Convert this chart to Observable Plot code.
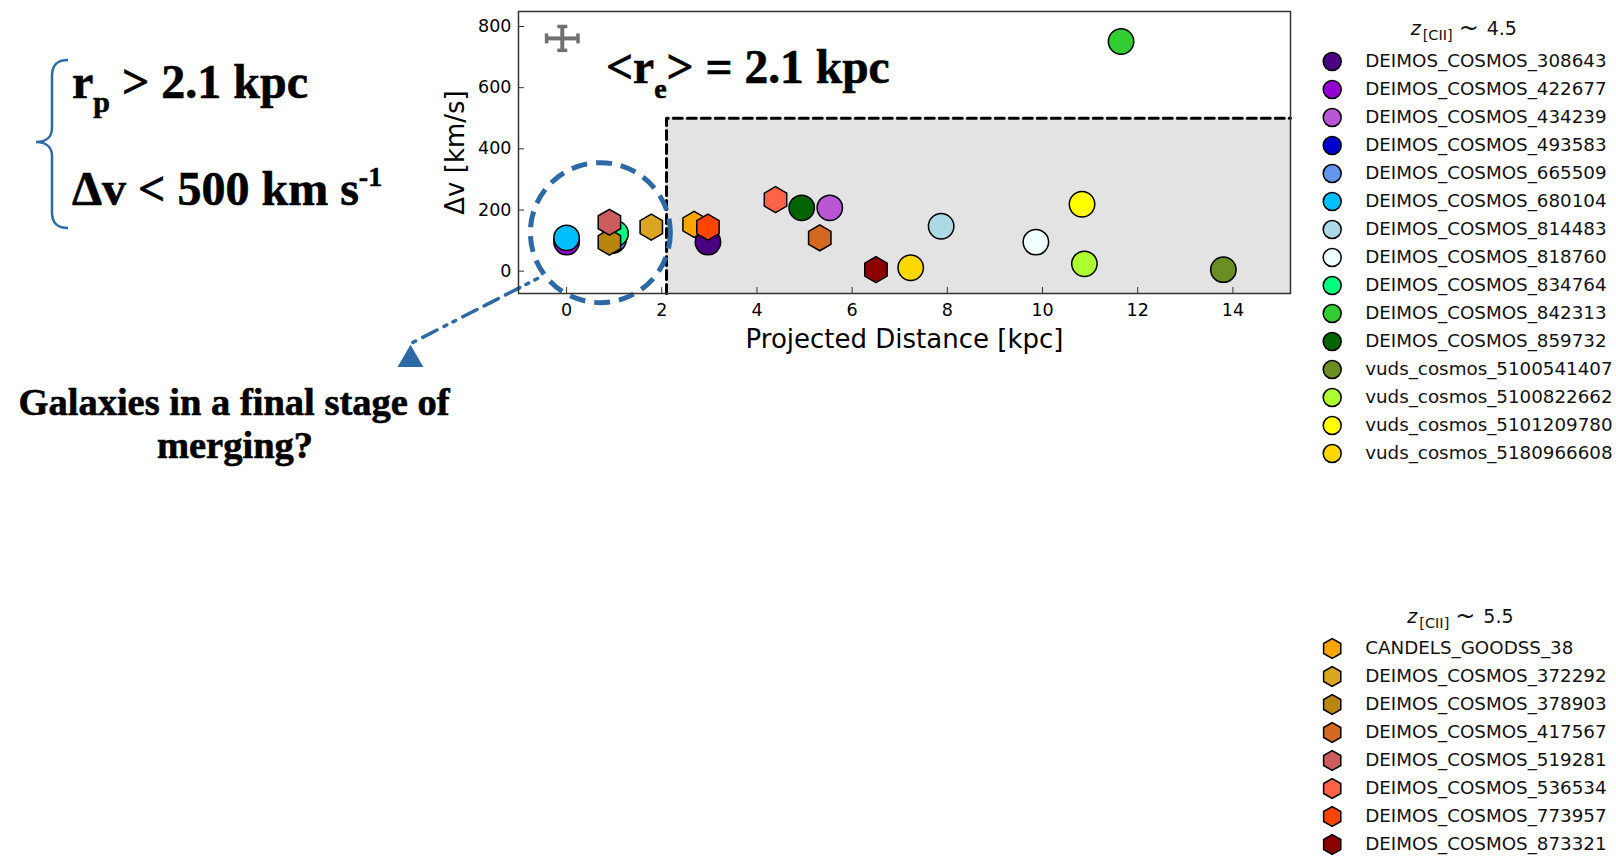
<!DOCTYPE html>
<html><head><meta charset="utf-8">
<script src="https://cdn.jsdelivr.net/npm/d3@7"></script>
<script src="https://cdn.jsdelivr.net/npm/@observablehq/plot@0.6"></script>
<style>
body{margin:0;background:#fff;}
#page{position:relative;width:1616px;height:856px;overflow:hidden;background:#fff;}
#page > svg, #page > figure{position:absolute;margin:0;}
</style></head><body><div id="page"></div>
<script>
// ---- data ----
const namesA = ["DEIMOS_COSMOS_308643","DEIMOS_COSMOS_422677","DEIMOS_COSMOS_434239","DEIMOS_COSMOS_493583","DEIMOS_COSMOS_665509","DEIMOS_COSMOS_680104","DEIMOS_COSMOS_814483","DEIMOS_COSMOS_818760","DEIMOS_COSMOS_834764","DEIMOS_COSMOS_842313","DEIMOS_COSMOS_859732","vuds_cosmos_5100541407","vuds_cosmos_5100822662","vuds_cosmos_5101209780","vuds_cosmos_5180966608"];
const colorsA = ["#4B0082","#9400D3","#BA55D3","#0000CD","#6495ED","#00BFFF","#ADD8E6","#F0FFFF","#00FF7F","#32CD32","#006400","#6B8E23","#ADFF2F","#FFFF00","#FFD700"];
const distA = [2.97, 0.00, 5.53, 0.97, 0.99, 0.00, 7.87, 9.86, 1.03, 11.65, 4.94, 13.80, 10.88, 10.83, 7.23];
const dvA   = [95, 95, 207, 100, 104, 109, 147, 95, 123, 751, 207, 5, 24, 219, 11];

const namesB = ["CANDELS_GOODSS_38","DEIMOS_COSMOS_372292","DEIMOS_COSMOS_378903","DEIMOS_COSMOS_417567","DEIMOS_COSMOS_519281","DEIMOS_COSMOS_536534","DEIMOS_COSMOS_773957","DEIMOS_COSMOS_873321"];
const colorsB = ["#FFA500","#DAA520","#B8860B","#D2691E","#CD5C5C","#FF6347","#FF4500","#8B0000"];
const distB = [2.68, 1.78, 0.90, 5.32, 0.90, 4.39, 2.97, 6.50];
const dvB   = [153, 144, 95, 109, 160, 234, 144, 5];

const xTicks = [0, 2, 4, 6, 8, 10, 12, 14];
const yTicks = [0, 200, 400, 600, 800];
const xDomain = [-1.01, 15.21];
const yDomain = [-73, 849];
const rEff = 2.1;          // kpc
const dvLimit = 500;       // km/s
const errCenter = [-0.09, 761];
const errSize = [0.33, 39];
const mergeCircle = [0.71, 126];
const arrowFrom = [-0.61, -24];
const arrowTo = [-3.32, -240];
const arrowHead = [-3.28, -289];

const BLUE = "#2d69a5";
const rowsA = namesA.map((n, i) => ({name: n, color: colorsA[i], x: distA[i], y: dvA[i]}));
const rowsB = namesB.map((n, i) => ({name: n, color: colorsB[i], x: distB[i], y: dvB[i]}));

const page = document.getElementById("page");
const NS = "http://www.w3.org/2000/svg";

function capMarker(color) {
  const m = document.createElementNS(NS, "marker");
  m.setAttribute("viewBox", "-6 -6 12 12");
  m.setAttribute("markerWidth", 12);
  m.setAttribute("markerHeight", 12);
  m.setAttribute("markerUnits", "userSpaceOnUse");
  m.setAttribute("orient", "auto");
  const p = document.createElementNS(NS, "path");
  p.setAttribute("d", "M0,-5L0,5");
  p.setAttribute("stroke", color);
  p.setAttribute("stroke-width", 3.5);
  m.appendChild(p);
  return m;
}

const errLinks = [
  {x1: errCenter[0] - errSize[0], x2: errCenter[0] + errSize[0], y1: errCenter[1], y2: errCenter[1]},
  {x1: errCenter[0], x2: errCenter[0], y1: errCenter[1] - errSize[1], y2: errCenter[1] + errSize[1]}
];

const main = Plot.plot({
  width: 1300, height: 856,
  marginLeft: 518, marginRight: 10, marginTop: 11, marginBottom: 563,
  style: {fontFamily: "DejaVu Sans", fontSize: "17.5px", color: "#000", background: "transparent", overflow: "visible"},
  x: {domain: xDomain, ticks: xTicks},
  y: {domain: yDomain, ticks: yTicks},
  clip: false,
  marks: [
    Plot.rect([0], {x1: rEff, x2: xDomain[1], y1: yDomain[0], y2: dvLimit, fill: "#e3e3e3"}),
    Plot.line([[rEff, yDomain[0]], [rEff, dvLimit], [xDomain[1], dvLimit]], {x: d => d[0], y: d => d[1], stroke: "#000", strokeWidth: 3, strokeDasharray: "9,5"}),
    Plot.link(errLinks, {x1: "x1", x2: "x2", y1: "y1", y2: "y2", stroke: "#707070", strokeWidth: 4, markerStart: capMarker, markerEnd: capMarker}),
    Plot.dot(rowsA, {x: "x", y: "y", fill: "color", r: 12.7, symbol: "circle", stroke: "#000", strokeWidth: 1.5}),
    Plot.dot(rowsB, {x: "x", y: "y", fill: "color", r: 11.2, symbol: "hexagon", stroke: "#000", strokeWidth: 1.5}),
    Plot.dot([mergeCircle], {x: d => d[0], y: d => d[1], r: 70, fill: "none", stroke: BLUE, strokeWidth: 5, strokeDasharray: "16,9"}),
    Plot.line([arrowFrom, arrowTo], {x: d => d[0], y: d => d[1], stroke: BLUE, strokeWidth: 3.5, strokeDasharray: "3,7,3,7,16,8,16,8,16,8,3,7,3,8,16,8"}),
    Plot.dot([arrowHead], {x: d => d[0], y: d => d[1], symbol: "triangle", r: 9.6, fill: BLUE}),
    Plot.frame({stroke: "#333", strokeWidth: 1.5}),
    Plot.axisX({ticks: xTicks, tickSize: -6, tickPadding: 16, label: null, fontSize: 17.5, stroke: "#333"}),
    Plot.axisY({ticks: yTicks, tickSize: -6, tickPadding: 13, label: null, fontSize: 17.5, stroke: "#333"}),
    Plot.text(["Projected Distance [kpc]"], {text: d => d, frameAnchor: "bottom", dy: 54, lineAnchor: "bottom", textAnchor: "middle", fontSize: 26}),
    Plot.text(["\u0394v [km/s]"], {text: d => d, frameAnchor: "left", rotate: -90, dx: -55, lineAnchor: "bottom", textAnchor: "middle", fontSize: 26})
  ]
});
main.style.left = "0px"; main.style.top = "0px";
page.appendChild(main);

function legendPlot(rows, symbol, r, top, height, yRange) {
  const p = Plot.plot({
    width: 316, height,
    style: {fontFamily: "DejaVu Sans", background: "transparent", overflow: "visible"},
    x: {domain: [0, 1], range: [31.7, 300], axis: null},
    y: {type: "point", domain: rows.map(d => d.name), range: yRange, padding: 0, axis: null},
    marks: [
      Plot.dot(rows, {x: () => 0, y: "name", fill: "color", symbol, r, stroke: "#000", strokeWidth: 1.5}),
      Plot.text(rows, {x: () => 0, y: "name", text: "name", dx: 33, textAnchor: "start", fontSize: 18.3, fill: "#111"})
    ]
  });
  p.style.left = "1300px"; p.style.top = top + "px";
  return p;
}
page.appendChild(legendPlot(rowsA, "circle", 9, 0, 470, [60, 453.3]));
page.appendChild(legendPlot(rowsB, "hexagon", 8.6, 590, 266, [56.7, 256]));

// ---- overlay annotations (rich text) ----
const ov = document.createElementNS(NS, "svg");
ov.setAttribute("width", 1616); ov.setAttribute("height", 856);
ov.style.left = "0px"; ov.style.top = "0px"; ov.style.pointerEvents = "none";
page.appendChild(ov);

function txt(parent, x, y, parts, base) {
  const t = document.createElementNS(NS, "text");
  t.setAttribute("x", x); t.setAttribute("y", y);
  Object.entries(base).forEach(([k, v]) => t.setAttribute(k, v));
  parts.forEach(p => {
    const s = document.createElementNS(NS, "tspan");
    s.textContent = p.t;
    if (p.dy) s.setAttribute("dy", p.dy);
    if (p.size) s.setAttribute("font-size", p.size);
    if (p.style) s.setAttribute("font-style", p.style);
    if (p.x != null) s.setAttribute("x", p.x);
    t.appendChild(s);
  });
  parent.appendChild(t);
  return t;
}
const serif = {"font-family": "Liberation Serif, Times New Roman, serif", "font-weight": "bold", "fill": "#000", "stroke": "#000", "stroke-width": 0.6};

// brace
const brace = document.createElementNS(NS, "path");
brace.setAttribute("d", "M68,60 C58,60 52,64 52,76 L52,128 C52,137 46,142 36,142 C46,142 52,147 52,156 L52,212 C52,224 58,228 68,228");
brace.setAttribute("fill", "none"); brace.setAttribute("stroke", BLUE); brace.setAttribute("stroke-width", 2.5);
ov.appendChild(brace);

txt(ov, 72, 98, [{t: "r"}, {t: "p", size: 30, dy: 14}, {t: " > 2.1 kpc", dy: -14}], {...serif, "font-size": 48});
txt(ov, 72, 205, [{t: "\u0394v < 500 km s"}, {t: "-1", size: 28, dy: -19}], {...serif, "font-size": 48});
txt(ov, 606, 83, [{t: "<r"}, {t: "e", size: 28, dy: 15}, {t: "> = 2.1 kpc", dy: -15}], {...serif, "font-size": 47.5});
txt(ov, 234, 415, [{t: "Galaxies in a final stage of"}], {...serif, "font-size": 38.5, "text-anchor": "middle"});
txt(ov, 235, 458, [{t: "merging?"}], {...serif, "font-size": 38.5, "text-anchor": "middle"});

// legend titles
const sans = {"font-family": "DejaVu Sans", "fill": "#111"};
function legendTitle(x0, y0, label) {
  txt(ov, x0, y0, [{t: "z", style: "italic"}], {...sans, "font-size": 19});
  txt(ov, x0 + 12, y0 + 4.5, [{t: "[CII]"}], {...sans, "font-size": 14.5});
  txt(ov, x0 + 48, y0 + 1, [{t: "~"}], {...sans, "font-size": 24});
  txt(ov, x0 + 76, y0, [{t: label}], {...sans, "font-size": 19});
}
legendTitle(1410.7, 35, "4.5");
legendTitle(1407.3, 623.3, "5.5");
</script></body></html>
